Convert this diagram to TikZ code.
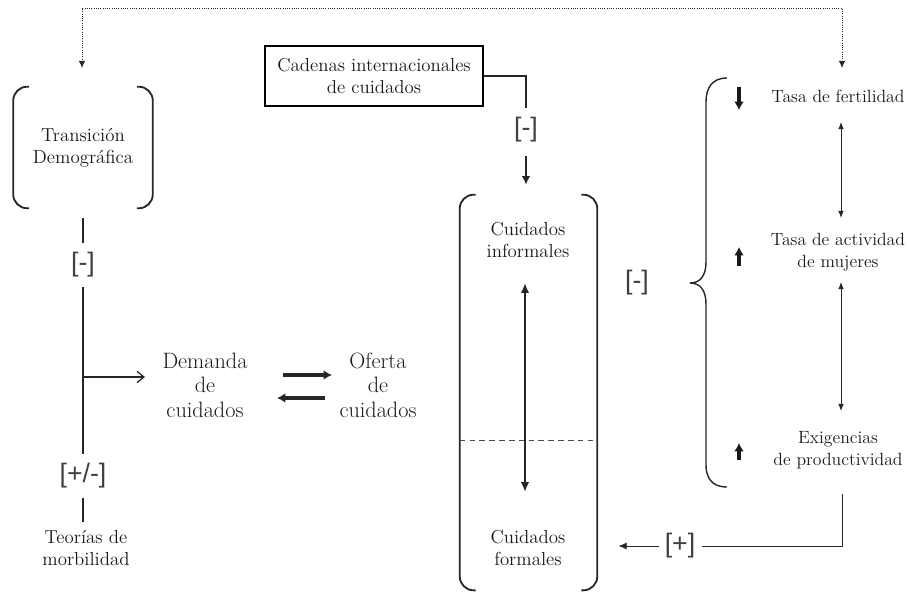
\documentclass[tikz,border=0pt]{standalone}
\usepackage{fontspec}
\newfontfamily\signfont{Liberation Sans}
\usetikzlibrary{arrows.meta}

% left and right rounded sides of a box node
\newcommand{\sidebrackets}[1]{%
  \draw[bracket] ([xshift=0.4cm]#1.north west) -- (#1.north west) -- (#1.south west) -- ([xshift=0.4cm]#1.south west);
  \draw[bracket] ([xshift=-0.4cm]#1.north east) -- (#1.north east) -- (#1.south east) -- ([xshift=-0.4cm]#1.south east);
}

\begin{document}
\begin{tikzpicture}[x=0.025cm, y=-0.025cm,
    every node/.style={text=black!90},
    txt/.style={align=center, inner sep=0pt, font=\fontsize{13.4}{15.6}\selectfont},
    sidetxt/.style={align=center, inner sep=0pt, font=\fontsize{12.6}{15.6}\selectfont},
    tradetxt/.style={align=center, inner sep=0pt, font=\fontsize{15.8}{17.5}\selectfont},
    sign/.style={inner xsep=0.15cm, inner ysep=0.22cm, font=\signfont\fontsize{19}{22}\selectfont, text=black!75},
    carebox/.style={inner sep=0pt, align=center},
    bracket/.style={line width=1.3pt, rounded corners=0.35cm, draw=black!85},
    stem/.style={line width=1.4pt, draw=black!85},
    thinarrow/.style={line width=0.9pt, draw=black!85, -{Straight Barb[length=5pt, width=8pt]}},
    swaparrow/.style={line width=2.4pt, draw=black!85, -{Latex[length=6pt, width=7pt]}},
    chain/.style={line width=2pt, draw=black!85},
    chainarrow/.style={line width=1.8pt, draw=black!85, -{Latex[length=6pt, width=6pt]}},
    bigpair/.style={line width=2pt, draw=black!85, {Latex[length=7pt, width=6pt]}-{Latex[length=7pt, width=6pt]}},
    pair/.style={line width=0.7pt, draw=black!85, {Latex[length=5pt, width=4pt]}-{Latex[length=5pt, width=4pt]}},
    trend/.style={line width=2.5pt, draw=black!90, -{Latex[length=6pt, width=7pt]}},
    bracestroke/.style={line width=1pt, draw=black!85},
    feedline/.style={line width=0.7pt, draw=black!85},
    feedarrow/.style={line width=0.7pt, draw=black!85, -{Latex[length=6pt, width=5pt]}},
    loopback/.style={densely dotted, line width=0.6pt, draw=black!85, {Latex[length=5pt, width=4.5pt]}-{Latex[length=5pt, width=4.5pt]}}
  ]
  \useasboundingbox (0,0) rectangle (907,593);

  % left column
  \node[carebox, txt, minimum width=3.475cm, minimum height=3.025cm] (trans) at (83,147.5) {Transición\\Demográfica};
  \node[sign] (neg1) at (83,265) {[-]};
  \node[sign] (mixed) at (83,476) {[+/-]};
  \node[txt] (morb) at (86,548) {Teorías de\\morbilidad};
  \coordinate (branch) at (83,377);

  % demand and supply
  \node[tradetxt] (dem) at (205,385) {Demanda\\de\\cuidados};
  \node[tradetxt] (ofe) at (378,385) {Oferta\\de\\cuidados};

  % care chains and care box
  \node[draw, line width=1.6pt, txt, minimum width=5.45cm, minimum height=1.5cm] (cad) at (374,76) {Cadenas internacionales\\de cuidados};
  \node[sign] (neg2) at (526,130) {[-]};
  \node[carebox, minimum width=3.425cm, minimum height=9.875cm] (cuid) at (528.5,392.5) {};
  \node[txt] (inf) at (528,240) {Cuidados\\informales};
  \node[txt] (form) at (528,548) {Cuidados\\formales};
  \coordinate (split) at (528,440);
  \node[sign] (neg3) at (637,283) {[-]};

  % right column
  \node[sidetxt] (fert) at (838,96) {Tasa de fertilidad};
  \node[sidetxt] (act) at (838,252) {Tasa de actividad\\de mujeres};
  \node[sidetxt] (exig) at (838,450) {Exigencias\\de productividad};
  \node[sign] (pos) at (680,546) {[+]};
  \coordinate (ceiling) at (460,8);

  \sidebrackets{trans}
  \sidebrackets{cuid}

  % left stem
  \draw[stem, shorten <=0.25cm] (trans.south) -- (neg1.north);
  \draw[stem] (neg1.south) -- (mixed.north);
  \draw[stem, shorten >=0.2cm] (mixed.south) -- (mixed.south |- morb.north);
  \draw[thinarrow] (branch) -- ([shift={(-60,-8)}]dem.center);

  % demand <-> supply
  \draw[swaparrow] ([shift={(78,-10)}]dem.center) -- ([shift={(-46,-10)}]ofe.center);
  \draw[swaparrow] ([shift={(-53,13)}]ofe.center) -- ([shift={(72,13)}]dem.center);

  % chains into care box
  \draw[chain] (cad.east) -| (neg2.north);
  \draw[chainarrow, shorten <=0.1cm, shorten >=0.25cm] (neg2.south) -- (neg2.south |- cuid.north);
  \draw[bigpair] ([shift={(-3,43)}]inf.center) -- ([shift={(-3,-56)}]form.center);
  \draw[dashed, dash pattern=on 4pt off 3pt, line width=0.6pt, black!70] (cuid.west |- split) -- (cuid.east |- split);

  % brace
  \draw[bracestroke] (727,78) .. controls (712,78) and (706,88) .. (706,102) -- (706,262)
    .. controls (706,276) and (700,283) .. (690,283)
    .. controls (700,283) and (706,290) .. (706,304) -- (706,465)
    .. controls (706,478) and (712,487) .. (727,487);

  % trends
  \draw[trend] ([shift={(-99,-9)}]fert.center) -- ++(0,23);
  \draw[trend] ([shift={(-99,14)}]act.center) -- ++(0,-19);
  \draw[trend] ([shift={(-99,10)}]exig.center) -- ++(0,-17);
  \draw[pair] ([shift={(3,26)}]fert.center) -- ([shift={(3,-34)}]act.center);
  \draw[pair] ([shift={(3,30)}]act.center) -- ([shift={(3,-39)}]exig.center);

  % feedback
  \draw[feedline] ([shift={(4,44)}]exig.center) |- (pos.east);
  \draw[feedarrow, shorten >=0.525cm] (pos.west) -- (pos.west -| cuid.east);
  \draw[loopback] ([shift={(4,-28)}]fert.center) |- (ceiling) -| ([shift={(-1,-79.5)}]trans.center);
\end{tikzpicture}
\end{document}
